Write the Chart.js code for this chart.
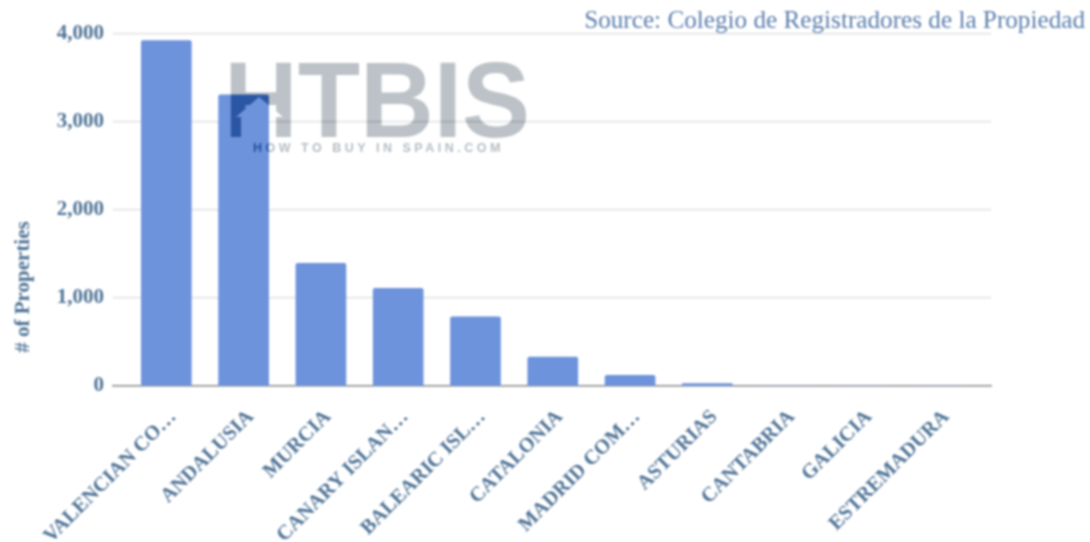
<!DOCTYPE html>
<html>
<head>
<meta charset="utf-8">
<style>
  html, body { margin: 0; padding: 0; background: #fff; }
  #wrap { width: 1090px; height: 542px; }
  canvas { filter: blur(0.8px); }
</style>
<script src="https://cdn.jsdelivr.net/npm/chart.js@4"></script>
</head>
<body>
<div id="wrap"><canvas id="propertyChart" width="1090" height="542"></canvas></div>
<script>
const categories = ['VALENCIAN CO…', 'ANDALUSIA', 'MURCIA', 'CANARY ISLAN…', 'BALEARIC ISL…', 'CATALONIA', 'MADRID COM…', 'ASTURIAS', 'CANTABRIA', 'GALICIA', 'ESTREMADURA'];
const properties = [3925, 3310, 1395, 1110, 785, 330, 120, 28, 0, 0, 0];
const yTicks = [0, 1000, 2000, 3000, 4000];
const yTitle = '# of Properties';
const sourceText = 'Source: Colegio de Registradores de la Propiedad';

const labelColor = '#4f7396';

// white page, the watermark below needs something opaque to blend with
const whiteBackground = {
  id: 'whiteBackground',
  beforeDraw(chart) {
    const c = chart.ctx;
    c.save();
    c.fillStyle = '#fff';
    c.fillRect(0, 0, chart.width, chart.height);
    c.restore();
  }
};

const extras = {
  id: 'extras',
  afterDraw(chart) {
    const c = chart.ctx;

    // axis title and source line
    c.save();
    c.fillStyle = labelColor;
    c.font = 'bold 21px "Liberation Serif"';
    c.textAlign = 'center';
    c.textBaseline = 'middle';
    c.translate(24, 287);
    c.rotate(-Math.PI / 2);
    c.fillText(yTitle, 0, 0);
    c.restore();

    c.save();
    c.fillStyle = '#5d7fae';
    c.font = '25.2px "Liberation Serif"';
    c.textAlign = 'right';
    c.textBaseline = 'alphabetic';
    c.fillText(sourceText, 1085, 28);
    c.restore();

    // watermark, with the house cut out of the H
    const mark = document.createElement('canvas');
    mark.width = chart.width;
    mark.height = chart.height;
    const m = mark.getContext('2d');
    m.fillStyle = 'rgb(67,61,56)';
    m.font = 'bold 108px "Liberation Sans"';
    m.textBaseline = 'alphabetic';
    m.save();
    m.translate(224, 137);
    m.scale(0.945, 1);
    m.fillText('HTBIS', 0, 0);
    m.restore();
    m.globalCompositeOperation = 'destination-out';
    m.beginPath();
    m.moveTo(259, 97);
    m.lineTo(283, 117);
    m.lineTo(270, 117);
    m.lineTo(270, 138);
    m.lineTo(241, 138);
    m.lineTo(241, 117);
    m.lineTo(236, 117);
    m.closePath();
    m.fill();
    m.globalCompositeOperation = 'source-over';
    m.fillStyle = 'rgb(75,68,62)';
    m.font = 'bold 12.5px "Liberation Sans"';
    m.letterSpacing = '3.5px';
    m.fillText('HOW TO BUY IN SPAIN.COM', 253, 152);

    c.save();
    c.globalCompositeOperation = 'difference';
    c.drawImage(mark, 0, 0);
    c.restore();
  }
};

new Chart(document.getElementById('propertyChart').getContext('2d'), {
  type: 'bar',
  data: {
    datasets: [{
      data: properties.map((v, i) => ({ x: i, y: v })),
      backgroundColor: '#6d93dc',
      borderRadius: { topLeft: 2, topRight: 2 },
      barThickness: 50,
    }],
  },
  plugins: [whiteBackground, extras],
  options: {
    responsive: false,
    animation: false,
    layout: { padding: { top: 34, right: 99, left: 0, bottom: 0 } },
    plugins: { legend: { display: false }, tooltip: { enabled: false } },
    scales: {
      x: {
        type: 'linear',
        offset: false,
        min: -0.69,
        max: 10.67,
        afterFit(scale) { scale.height = 156; },
        afterBuildTicks(scale) { scale.ticks = categories.map((_, i) => ({ value: i })); },
        grid: { display: false },
        border: { color: '#8a8a8a', width: 1.5 },
        ticks: {
          autoSkip: false,
          minRotation: 45,
          maxRotation: 45,
          padding: 11,
          labelOffset: 7,
          color: labelColor,
          font: { family: '"Liberation Serif"', size: 20.5, weight: 'bold' },
          callback: (v) => categories[v],
        },
      },
      y: {
        min: 0,
        max: 4000,
        afterFit(scale) { scale.width = 113; },
        afterBuildTicks(scale) { scale.ticks = yTicks.map((v) => ({ value: v })); },
        grid: { color: '#dcdcdc', lineWidth: 1.2, drawTicks: false },
        border: { display: false },
        ticks: {
          padding: 9,
          color: labelColor,
          font: { family: '"Liberation Serif"', size: 21, weight: 'bold' },
          callback: (v) => v.toLocaleString('en-US'),
        },
      },
    },
  },
});
</script>
</body>
</html>
